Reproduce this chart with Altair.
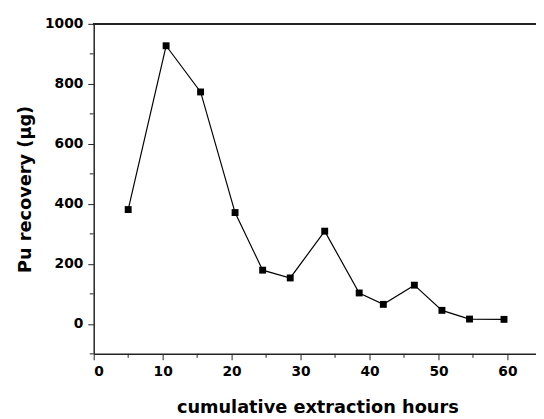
import altair as alt
import pandas as pd

hours = [5.0, 10.5, 15.5, 20.5, 24.5, 28.5, 33.5, 38.5, 42.0, 46.5, 50.5, 54.5, 59.5]
recovery = [381, 927, 773, 371, 179, 153, 309, 103, 65, 129, 45, 16, 15]

x_major = [0, 10, 20, 30, 40, 50, 60]
x_minor = [5, 15, 25, 35, 45, 55]
y_major = [0, 200, 400, 600, 800, 1000]
y_minor = [-100, 100, 300, 500, 700, 900]

df = pd.DataFrame({"hours": hours, "recovery": recovery})

FONT = "DejaVu Sans"
W, H = 449, 335

xs = alt.Scale(domain=[0, 64.14], nice=False, zero=False)
ys = alt.Scale(domain=[-100, 1000], nice=False, zero=False)

common = dict(
    grid=False,
    domainColor="#222",
    domainWidth=1.5,
    tickColor="#222",
    tickSize=6,
    format="d",
    labelFont=FONT,
    labelFontSize=14,
    labelFontWeight="bold",
    labelColor="black",
    labelPadding=5,
    titleFont=FONT,
    titleFontSize=18,
    titleFontWeight="bold",
    titleColor="black",
)

x_axis = alt.Axis(
    title="cumulative extraction hours",
    values=x_major,
    titleX=227,
    titleY=60,
    titleBaseline="alphabetic",
    **common,
)
y_axis = alt.Axis(
    title="Pu recovery (μg)",
    values=y_major,
    titlePadding=10,
    **common,
)

base = alt.Chart(df)
line = base.mark_line(color="black", strokeWidth=1.2).encode(
    x=alt.X("hours:Q", scale=xs, axis=x_axis), y=alt.Y("recovery:Q", scale=ys, axis=y_axis)
)
pts = base.mark_square(color="black", size=49, opacity=1).encode(
    x=alt.X("hours:Q", scale=xs, axis=x_axis), y=alt.Y("recovery:Q", scale=ys, axis=y_axis)
)
top = alt.Chart(df).mark_rule(color="#222", strokeWidth=1.5).encode(
    y=alt.value(0), x=alt.value(0), x2=alt.value(W)
)
xminor = alt.Chart(pd.DataFrame({"m": x_minor})).mark_rule(color="#222", strokeWidth=1).encode(
    x=alt.X("m:Q", scale=xs, axis=x_axis), y=alt.value(H), y2=alt.value(H + 4)
)
yminor = alt.Chart(pd.DataFrame({"m": y_minor})).mark_rule(color="#222", strokeWidth=1).encode(
    y=alt.Y("m:Q", scale=ys, axis=y_axis), x=alt.value(-4), x2=alt.value(0)
)

chart = alt.layer(line, pts, top, xminor, yminor).properties(
    width=W,
    height=H,
    autosize=alt.AutoSizeParams(type="none"),
    padding={"left": 87, "top": 13, "right": 0, "bottom": 61},
).configure_view(stroke=None)

chart.save("out.html", embed_options={"renderer": "svg", "actions": False})
